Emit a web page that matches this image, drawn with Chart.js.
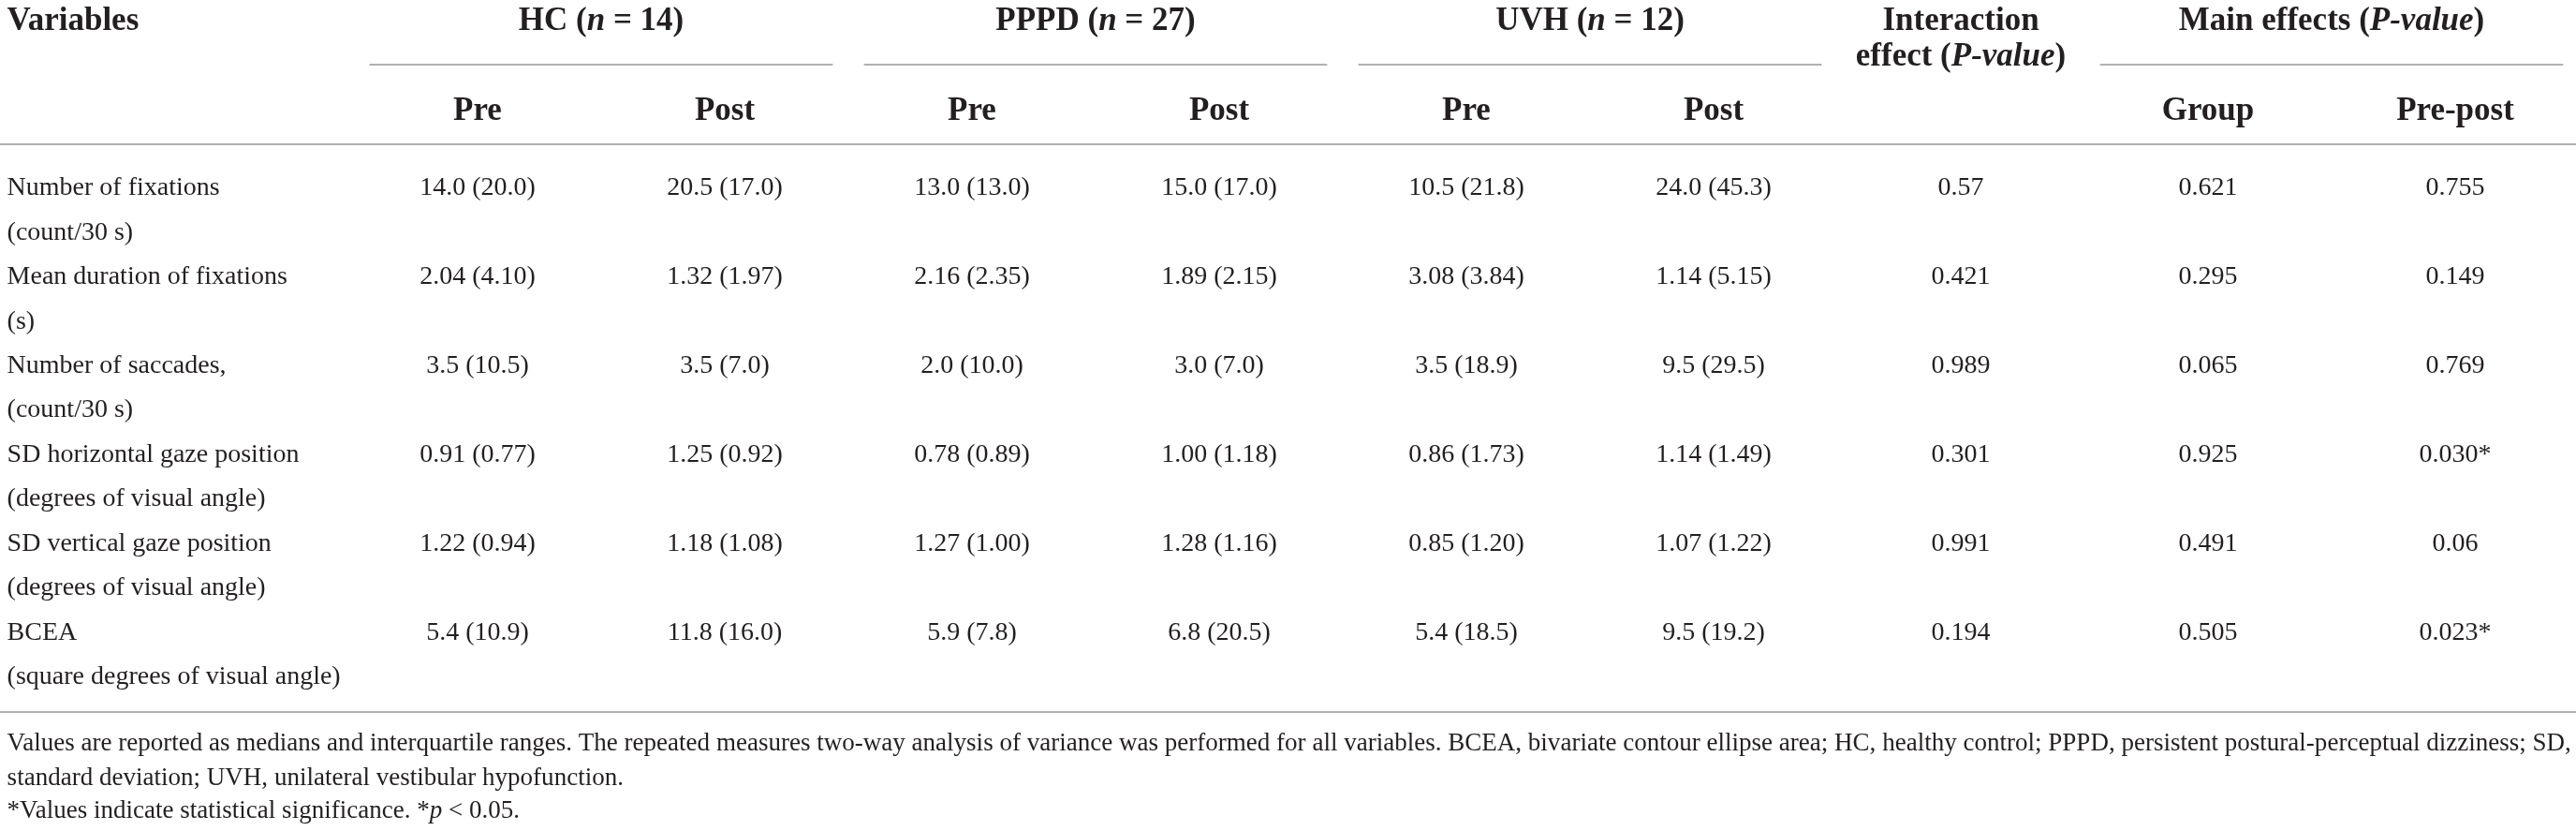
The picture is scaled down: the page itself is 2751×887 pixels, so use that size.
<!DOCTYPE html>
<html>
<head>
<meta charset="utf-8">
<script src="https://cdn.jsdelivr.net/npm/chart.js@4"></script>
<style>
    body { margin: 0; background: #fff; overflow: hidden; }
    canvas { display: block; }
</style>
</head>
<body>
<canvas id="tabela" width="2751" height="887"></canvas>
<script>
const variaveis = [
    ["Number of fixations", "(count/30 s)"],
    ["Mean duration of fixations", "(s)"],
    ["Number of saccades,", "(count/30 s)"],
    ["SD horizontal gaze position", "(degrees of visual angle)"],
    ["SD vertical gaze position", "(degrees of visual angle)"],
    ["BCEA", "(square degrees of visual angle)"]
];
const casasDecimais = [1, 2, 1, 2, 2, 1];

const hcPreMediana = [14.0, 2.04, 3.5, 0.91, 1.22, 5.4];
const hcPreIqr = [20.0, 4.10, 10.5, 0.77, 0.94, 10.9];
const hcPosMediana = [20.5, 1.32, 3.5, 1.25, 1.18, 11.8];
const hcPosIqr = [17.0, 1.97, 7.0, 0.92, 1.08, 16.0];
const pppdPreMediana = [13.0, 2.16, 2.0, 0.78, 1.27, 5.9];
const pppdPreIqr = [13.0, 2.35, 10.0, 0.89, 1.00, 7.8];
const pppdPosMediana = [15.0, 1.89, 3.0, 1.00, 1.28, 6.8];
const pppdPosIqr = [17.0, 2.15, 7.0, 1.18, 1.16, 20.5];
const uvhPreMediana = [10.5, 3.08, 3.5, 0.86, 0.85, 5.4];
const uvhPreIqr = [21.8, 3.84, 18.9, 1.73, 1.20, 18.5];
const uvhPosMediana = [24.0, 1.14, 9.5, 1.14, 1.07, 9.5];
const uvhPosIqr = [45.3, 5.15, 29.5, 1.49, 1.22, 19.2];

const pInteracao = ["0.57", "0.421", "0.989", "0.301", "0.991", "0.194"];
const pGrupo = ["0.621", "0.295", "0.065", "0.925", "0.491", "0.505"];
const pPrePos = ["0.755", "0.149", "0.769", "0.030*", "0.06", "0.023*"];

// _texto_ = italico
const grupos = ["HC (_n_ = 14)", "PPPD (_n_ = 27)", "UVH (_n_ = 12)", "Main effects (_P-value_)"];
const gruposColunas = [[1, 2], [3, 4], [5, 6], [8, 9]];
const interacaoCabecalho = ["Interaction", "effect (_P-value_)"];
const subCabecalhos = ["Pre", "Post", "Pre", "Post", "Pre", "Post", "", "Group", "Pre-post"];
const notas = [
    "Values are reported as medians and interquartile ranges. The repeated measures two-way analysis of variance was performed for all variables. BCEA, bivariate contour ellipse area; HC, healthy control; PPPD, persistent postural-perceptual dizziness; SD,",
    "standard deviation; UVH, unilateral vestibular hypofunction.",
    "*Values indicate statistical significance. *_p_ < 0.05."
];

const COR_TEXTO = "#231f20";
const COR_REGRA = "#b0b0b0";
const FONTE = '"Liberation Serif", "DejaVu Serif", serif';
const colunaEsq = -0.903;
const linhas = { topo: -1.853, efeito: -1.453, regraGrupo: -1.463, sub: -0.842, regraCab: -0.568, regraFim: 5.811, notas: [6.242, 6.632, 7.0] };

const fmt = (med, iqr) => med.map((m, i) => `${m.toFixed(casasDecimais[i])} (${iqr[i].toFixed(casasDecimais[i])})`);

const colunas = [
    fmt(hcPreMediana, hcPreIqr), fmt(hcPosMediana, hcPosIqr),
    fmt(pppdPreMediana, pppdPreIqr), fmt(pppdPosMediana, pppdPosIqr),
    fmt(uvhPreMediana, uvhPreIqr), fmt(uvhPosMediana, uvhPosIqr),
    pInteracao, pGrupo, pPrePos
];

function desenharRico(ctx, texto, px, py, alinhamento, tamanho, negrito) {
    const partes = texto.split('_').map((t, k) => ({ t, italico: k % 2 === 1 })).filter(p => p.t !== '');
    const fontes = partes.map(p => `${p.italico ? 'italic ' : ''}${negrito ? 'bold ' : ''}${tamanho}px ${FONTE}`);
    const larguras = partes.map((p, k) => { ctx.font = fontes[k]; return ctx.measureText(p.t).width; });
    const total = larguras.reduce((a, b) => a + b, 0);
    let cx = alinhamento === 'center' ? px - total / 2 : px;
    ctx.textAlign = 'left';
    ctx.textBaseline = 'alphabetic';
    ctx.fillStyle = COR_TEXTO;
    partes.forEach((p, k) => {
        ctx.font = fontes[k];
        ctx.fillText(p.t, cx, py);
        cx += larguras[k];
    });
    return total;
}

function regra(ctx, x0, x1, py) {
    ctx.save();
    ctx.strokeStyle = COR_REGRA;
    ctx.lineWidth = 2;
    ctx.beginPath();
    ctx.moveTo(x0, py);
    ctx.lineTo(x1, py);
    ctx.stroke();
    ctx.restore();
}

const pluginTabela = {
    id: 'pluginTabela',
    afterDatasetsDraw(chart) {
        const { ctx, chartArea, scales: { x, y } } = chart;
        ctx.save();

        // celulas a partir dos pontos
        chart.data.datasets.forEach((ds, i) => {
            const meta = chart.getDatasetMeta(i);
            meta.data.forEach((pt, j) => {
                desenharRico(ctx, ds.textos[j], pt.x, pt.y, ds.alinhamento, 28, false);
            });
        });

        // cabecalhos
        desenharRico(ctx, "Variables", x.getPixelForValue(colunaEsq), y.getPixelForValue(linhas.topo), 'left', 35, true);
        grupos.forEach((g, i) => {
            const [c0, c1] = gruposColunas[i];
            desenharRico(ctx, g, x.getPixelForValue((c0 + c1) / 2), y.getPixelForValue(linhas.topo), 'center', 35, true);
            regra(ctx, x.getPixelForValue(c0 - 0.5 + 0.063), x.getPixelForValue(c1 + 0.5 - 0.063), y.getPixelForValue(linhas.regraGrupo));
        });
        desenharRico(ctx, interacaoCabecalho[0], x.getPixelForValue(7), y.getPixelForValue(linhas.topo), 'center', 35, true);
        desenharRico(ctx, interacaoCabecalho[1], x.getPixelForValue(7), y.getPixelForValue(linhas.efeito), 'center', 35, true);
        subCabecalhos.forEach((s, c) => {
            if (s) desenharRico(ctx, s, x.getPixelForValue(c + 1), y.getPixelForValue(linhas.sub), 'center', 35, true);
        });

        regra(ctx, chartArea.left, chartArea.right, y.getPixelForValue(linhas.regraCab));
        regra(ctx, chartArea.left, chartArea.right, y.getPixelForValue(linhas.regraFim));

        // notas: ajusta o tamanho para a primeira linha ocupar a largura
        ctx.font = `26px ${FONTE}`;
        const largura = ctx.measureText(notas[0]).width;
        const tamNota = Math.max(20, Math.min(28, 26 * (chartArea.right - chartArea.left - 12) / largura));
        notas.forEach((n, i) => {
            desenharRico(ctx, n, x.getPixelForValue(colunaEsq), y.getPixelForValue(linhas.notas[i]), 'left', tamNota.toFixed(2), false);
        });

        ctx.restore();
    }
};

function renderTabela() {
    const datasets = colunas.map((textos, c) => ({
        label: subCabecalhos[c] || 'Interaction',
        data: textos.map((_, r) => ({ x: c + 1, y: r })),
        textos: textos,
        alinhamento: 'center',
        pointRadius: 0
    }));

    datasets.unshift({
        label: 'Variables',
        data: variaveis.flatMap((v, r) => v.map((_, k) => ({ x: colunaEsq, y: r + k * 0.5 }))),
        textos: variaveis.flat(),
        alinhamento: 'left',
        pointRadius: 0
    });

    const ctx = document.getElementById('tabela').getContext('2d');
    new Chart(ctx, {
        type: 'scatter',
        data: { datasets },
        options: {
            responsive: false,
            animation: false,
            devicePixelRatio: 1,
            layout: { padding: 0 },
            plugins: {
                legend: { display: false },
                tooltip: { enabled: false }
            },
            scales: {
                x: { type: 'linear', min: -0.93182, max: 9.48864, display: false },
                y: { type: 'linear', min: -2.1895, max: 7.1474, reverse: true, display: false }
            }
        },
        plugins: [pluginTabela]
    });
}

renderTabela();
</script>
</body>
</html>
